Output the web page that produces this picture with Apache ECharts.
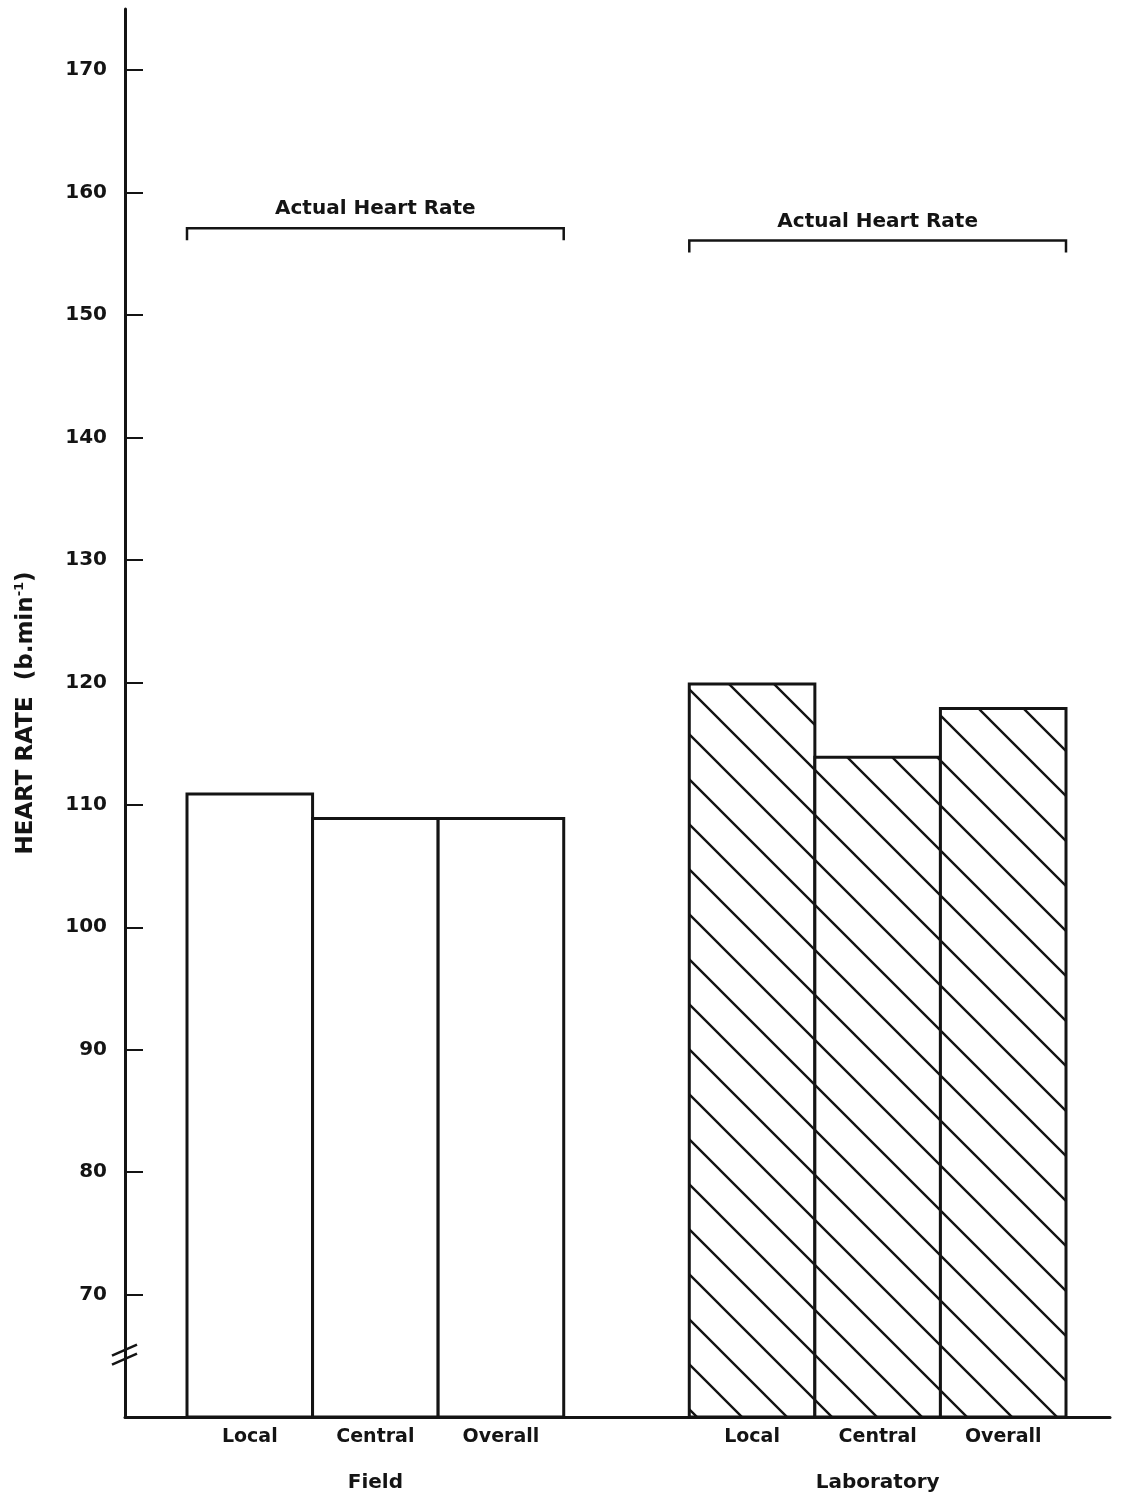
<!DOCTYPE html>
<html>
<head>
<meta charset="utf-8">
<script src="https://cdn.jsdelivr.net/npm/echarts@6/dist/echarts.min.js"></script>
<style>
html,body{margin:0;padding:0;background:#fff;}
#chart{width:1124px;height:1498px;}
</style>
</head>
<body>
<div id="chart"></div>
<script>
// ---- data ----
const groups = ['Field', 'Laboratory'];
const conditions = ['Local', 'Central', 'Overall'];
const fieldValues = [111, 109, 109];
const labValues = [120, 114, 118];
const yTicks = [70, 80, 90, 100, 110, 120, 130, 140, 150, 160, 170];
const bracketLabels = ['Actual Heart Rate', 'Actual Heart Rate'];
const bracketLevels = [157.1, 156.1];
const yAxisMin = 60, yAxisMax = 175;
const breakValue = 65.1;

// ---- build categories ----
const categories = [];
conditions.forEach(c => categories.push(groups[0] + '|' + c));
categories.push('gap|');
conditions.forEach(c => categories.push(groups[1] + '|' + c));
const fieldSeries = categories.map((_, i) => i < 3 ? fieldValues[i] : '-');
const labSeries = categories.map((_, i) => i > 3 ? labValues[i - 4] : '-');
const bracketData = [
  {value: [0, 2, bracketLevels[0]], name: bracketLabels[0]},
  {value: [4, 6, bracketLevels[1]], name: bracketLabels[1]}
];

const FONT = '"DejaVu Sans", sans-serif';
const INK = '#141414';

function hatch() {
  const s = 45, off = 0;
  const c = document.createElement('canvas');
  c.width = s; c.height = s;
  const g = c.getContext('2d');
  g.fillStyle = '#fff'; g.fillRect(0, 0, s, s);
  g.strokeStyle = INK; g.lineWidth = 2.4;
  g.beginPath();
  for (let k = -1; k <= 1; k++) {
    g.moveTo(k * s + off - 10, -10);
    g.lineTo(k * s + off + s + 10, s + 10);
  }
  g.stroke();
  return c;
}

const chart = echarts.init(document.getElementById('chart'), null, {renderer: 'canvas'});
const TOP = 9, BOTTOM = 81;
const BORDER = 3;
const BAR_W = '102.4%';
chart.setOption({
  backgroundColor: '#fff',
  animation: false,
  grid: [
    {left: 125, right: 14, top: TOP, bottom: BOTTOM},
    {left: 187, right: 58, top: TOP, bottom: BOTTOM}
  ],
  xAxis: [
    {gridIndex: 0, type: 'value', min: 0, max: 1,
     axisLine: {show: true, onZero: false, lineStyle: {color: INK, width: 3}},
     axisTick: {show: false}, axisLabel: {show: false}, splitLine: {show: false}},
    {gridIndex: 1, type: 'category', data: categories, boundaryGap: true,
     axisLine: {show: false}, axisTick: {show: false}, splitLine: {show: false},
     axisLabel: {interval: 0, margin: 11, color: INK, fontFamily: FONT, fontWeight: 'bold', fontSize: 19,
       formatter: v => v.split('|')[1] || ''}},
    {gridIndex: 1, type: 'category', data: categories, boundaryGap: true, position: 'bottom', offset: 46,
     axisLine: {show: false}, axisTick: {show: false}, splitLine: {show: false},
     axisLabel: {interval: 0, margin: 10, color: INK, fontFamily: FONT, fontWeight: 'bold', fontSize: 20,
       formatter: v => { const p = v.split('|'); return p[1] === conditions[1] ? p[0] : ''; }}}
  ],
  yAxis: [
    {gridIndex: 0, type: 'value', min: yAxisMin, max: yAxisMax, interval: 10,
     axisLine: {show: true, lineStyle: {color: INK, width: 3}},
     axisTick: {show: true, inside: true, length: 18, lineStyle: {color: INK, width: 2}, customValues: yTicks},
     axisLabel: {color: INK, margin: 18, fontFamily: FONT, fontWeight: 'bold', fontSize: 20, customValues: yTicks},
     splitLine: {show: false},
     name: 'HEART RATE  (b.min{sup|-1})', nameLocation: 'middle', nameGap: 86, nameRotate: 90,
     nameTextStyle: {color: INK, fontFamily: FONT, fontWeight: 'bold', fontSize: 23,
       rich: {sup: {fontSize: 13, fontFamily: FONT, fontWeight: 'bold', color: INK, verticalAlign: 'top', padding: [0, 0, 13, 0]}}}},
    {gridIndex: 1, type: 'value', min: yAxisMin, max: yAxisMax, show: false, splitLine: {show: false}}
  ],
  series: [
    {type: 'bar', name: groups[0], xAxisIndex: 1, yAxisIndex: 1, data: fieldSeries,
     barWidth: BAR_W, barGap: '-100%',
     itemStyle: {color: '#fff', borderColor: INK, borderWidth: BORDER}},
    {type: 'bar', name: groups[1], xAxisIndex: 1, yAxisIndex: 1, data: labSeries,
     barWidth: BAR_W, barGap: '-100%',
     itemStyle: {color: {image: hatch(), repeat: 'repeat'}, borderColor: INK, borderWidth: BORDER}},
    {type: 'custom', xAxisIndex: 1, yAxisIndex: 1, data: bracketData, silent: true,
     renderItem: function (params, api) {
       const s = api.coord([api.value(0), api.value(2)]);
       const e = api.coord([api.value(1), api.value(2)]);
       const bw = api.size([1, 0])[0];
       const x0 = s[0] - bw / 2, x1 = e[0] + bw / 2, y = s[1];
       const name = bracketData[params.dataIndex].name;
       return {type: 'group', children: [
         {type: 'polyline', shape: {points: [[x0, y + 12], [x0, y], [x1, y], [x1, y + 12]]},
          style: {stroke: INK, lineWidth: 2.5, fill: null}},
         {type: 'text', style: {text: name, x: (x0 + x1) / 2, y: y - 9, align: 'center', verticalAlign: 'bottom',
          font: 'bold 20px ' + FONT, fill: INK}}
       ]};
     }}
  ]
});

// axis break symbol on the y axis
const bp = chart.convertToPixel({xAxisIndex: 0, yAxisIndex: 0}, [0, breakValue]);
const ax = bp[0], by = bp[1];
chart.setOption({
  graphic: [
    {type: 'line', shape: {x1: ax - 13, y1: by + 1, x2: ax + 12, y2: by - 10}, style: {stroke: INK, lineWidth: 2.5}},
    {type: 'line', shape: {x1: ax - 13, y1: by + 10, x2: ax + 12, y2: by - 1}, style: {stroke: INK, lineWidth: 2.5}}
  ]
});
</script>
</body>
</html>
